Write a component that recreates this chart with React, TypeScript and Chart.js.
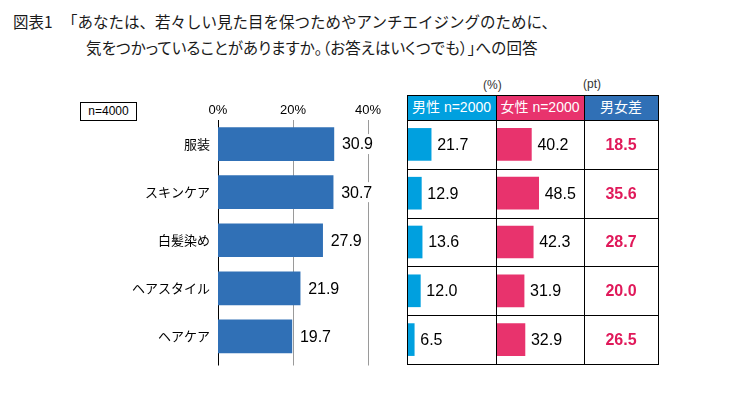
import React, { useEffect, useRef } from "react";
import { Chart, registerables } from "chart.js";

Chart.register(...registerables);

const categories = ["服装", "スキンケア", "白髪染め", "ヘアスタイル", "ヘアケア"];
const totalValues = [30.9, 30.7, 27.9, 21.9, 19.7];
const maleValues = [21.7, 12.9, 13.6, 12.0, 6.5];
const femaleValues = [40.2, 48.5, 42.3, 31.9, 32.9];
const diffValues = [18.5, 35.6, 28.7, 20.0, 26.5];
const axisTicks = [0, 20, 40];
const headers = ["男性 n=2000", "女性 n=2000", "男女差"];
const titleLabel = "図表1";
const titleLine1 = "「あなたは、若々しい見た目を保つためやアンチエイジングのために、";
const titleLine2 = "気をつかっていることがありますか。（お答えはいくつでも）」への回答";
const sampleLabel = "n=4000";

const NUM_FONT = "'Liberation Sans', Arial, sans-serif";
const JP_FONT = "'Noto Sans CJK JP', sans-serif";
const MIX_FONT = "'Liberation Sans', 'Noto Sans CJK JP', sans-serif";

const BLUE = "#3070B6";
const CYAN = "#00A0DF";
const PINK = "#E8336D";
const DIFF_TEXT = "#E0195A";

function MainChart() {
  const ref = useRef<HTMLCanvasElement>(null);
  useEffect(() => {
    const gridPlugin = {
      id: "gridLines",
      beforeDatasetsDraw(chart: any) {
        const { ctx, chartArea, scales } = chart;
        ctx.save();
        axisTicks.forEach((v) => {
          const x = Math.round(scales.x.getPixelForValue(v)) + 0.5;
          ctx.strokeStyle = v === 0 ? "#000" : "#9a9a9a";
          ctx.lineWidth = 1;
          ctx.beginPath();
          ctx.moveTo(x, chartArea.top);
          ctx.lineTo(x, chartArea.bottom + 5);
          ctx.stroke();
        });
        ctx.restore();
      },
    };
    const labelPlugin = {
      id: "valueLabels",
      afterDatasetsDraw(chart: any) {
        const { ctx } = chart;
        const meta = chart.getDatasetMeta(0);
        ctx.save();
        ctx.font = `16px ${NUM_FONT}`;
        ctx.textBaseline = "middle";
        meta.data.forEach((bar: any, i: number) => {
          const text = totalValues[i].toFixed(1);
          const w = ctx.measureText(text).width;
          const x = bar.x + 8;
          ctx.fillStyle = "#fff";
          ctx.fillRect(x - 2, bar.y - 10, w + 4, 20);
          ctx.fillStyle = "#000";
          ctx.fillText(text, x, bar.y + 1);
        });
        ctx.restore();
      },
    };
    const chart = new Chart(ref.current!, {
      type: "bar",
      data: {
        labels: categories,
        datasets: [{ data: totalValues, backgroundColor: BLUE, barThickness: 33 }],
      },
      options: {
        indexAxis: "y",
        animation: false,
        responsive: false,
        maintainAspectRatio: false,
        layout: { padding: { left: 0, right: 32, top: 0, bottom: 9.5 } },
        plugins: { legend: { display: false }, tooltip: { enabled: false } },
        scales: {
          x: {
            position: "top",
            min: 0,
            max: 40,
            ticks: {
              stepSize: 20,
              callback: (v: any) => v + "%",
              font: { family: NUM_FONT, size: 13 },
              color: "#000",
              padding: 2,
            },
            grid: { display: false, drawTicks: false },
            border: { display: false },
            afterFit: (s: any) => {
              s.height = 30;
            },
          },
          y: {
            ticks: { font: { family: JP_FONT, size: 13 }, color: "#000", padding: 8 },
            grid: { display: false, drawTicks: false },
            border: { display: false },
            afterFit: (s: any) => {
              s.width = 218;
              s.paddingTop = 0;
              s.paddingBottom = 0;
            },
          },
        },
      } as any,
      plugins: [gridPlugin, labelPlugin],
    });
    return () => chart.destroy();
  }, []);
  return (
    <canvas
      ref={ref}
      width={400}
      height={280}
      style={{ position: "absolute", left: 0, top: 90, width: 400, height: 280 }}
    />
  );
}

type TableProps = {
  values: number[];
  color: string;
  max: number;
  left: number;
  width: number;
  mode: "bar" | "text";
};

const TABLE_TOP = 120;
const TABLE_BOTTOM = 364;

function TableChart({ values, color, max, left, width, mode }: TableProps) {
  const ref = useRef<HTMLCanvasElement>(null);
  useEffect(() => {
    const labelPlugin = {
      id: "cellLabels",
      afterDatasetsDraw(chart: any) {
        const { ctx, chartArea } = chart;
        const meta = chart.getDatasetMeta(0);
        ctx.save();
        ctx.textBaseline = "middle";
        meta.data.forEach((bar: any, i: number) => {
          const text = values[i].toFixed(1);
          if (mode === "bar") {
            ctx.font = `16px ${NUM_FONT}`;
            ctx.fillStyle = "#000";
            ctx.textAlign = "left";
            ctx.fillText(text, bar.x + 6, bar.y + 1);
          } else {
            ctx.font = `bold 16px ${NUM_FONT}`;
            ctx.fillStyle = DIFF_TEXT;
            ctx.textAlign = "center";
            ctx.fillText(text, (chartArea.left + chartArea.right) / 2, bar.y + 1);
          }
        });
        ctx.restore();
      },
    };
    const chart = new Chart(ref.current!, {
      type: "bar",
      data: {
        labels: categories,
        datasets: [
          {
            data: values,
            backgroundColor: mode === "bar" ? color : "rgba(0,0,0,0)",
            barThickness: 32,
          },
        ],
      },
      options: {
        indexAxis: "y",
        animation: false,
        responsive: false,
        maintainAspectRatio: false,
        layout: { padding: 0 },
        plugins: { legend: { display: false }, tooltip: { enabled: false } },
        scales: {
          x: { display: false, min: 0, max },
          y: { display: false },
        },
      } as any,
      plugins: [labelPlugin],
    });
    return () => chart.destroy();
  }, []);
  const h = TABLE_BOTTOM - TABLE_TOP;
  return (
    <canvas
      ref={ref}
      width={width}
      height={h}
      style={{ position: "absolute", left, top: TABLE_TOP, width, height: h }}
    />
  );
}

export default function App() {
  useEffect(() => {
    document.body.style.margin = "0";
  }, []);
  const colX = [407, 496, 584, 658];
  const headerTop = 95;
  const rowH = (TABLE_BOTTOM - TABLE_TOP) / categories.length;
  const rowYs = [headerTop, TABLE_TOP, ...categories.map((_, i) => TABLE_TOP + (i + 1) * rowH)];
  const headerColors = [CYAN, PINK, BLUE];
  return (
    <div
      style={{
        position: "absolute",
        left: 0,
        top: 0,
        width: 740,
        height: 399,
        background: "#fff",
        overflow: "hidden",
        fontFamily: JP_FONT,
        color: "#1a1a1a",
      }}
    >
      <div style={{ position: "absolute", left: 13, top: 10, fontSize: 15.5, lineHeight: "22px", whiteSpace: "nowrap" }}>
        {titleLabel}
      </div>
      <div style={{ position: "absolute", left: 62, top: 10, fontSize: 15.5, lineHeight: "22px", whiteSpace: "nowrap" }}>
        {titleLine1}
      </div>
      <div
        style={{
          position: "absolute",
          left: 86,
          top: 35.5,
          fontSize: 15.5,
          lineHeight: "22px",
          whiteSpace: "nowrap",
          fontFeatureSettings: "'palt'",
          letterSpacing: "0.1px",
        }}
      >
        {titleLine2}
      </div>

      <div
        style={{
          position: "absolute",
          left: 80,
          top: 102,
          width: 55,
          height: 17,
          border: "1px solid #000",
          fontFamily: NUM_FONT,
          fontSize: 12,
          lineHeight: "17px",
          textAlign: "center",
          color: "#000",
        }}
      >
        {sampleLabel}
      </div>

      <MainChart />

      {headers.map((t, i) => (
        <div
          key={t}
          style={{
            position: "absolute",
            left: colX[i],
            top: headerTop,
            width: colX[i + 1] - colX[i],
            height: TABLE_TOP - headerTop,
            background: headerColors[i],
            color: "#fff",
            fontFamily: MIX_FONT,
            fontSize: 14,
            lineHeight: `${TABLE_TOP - headerTop}px`,
            textAlign: "center",
            whiteSpace: "nowrap",
          }}
        >
          {t}
        </div>
      ))}

      <div style={{ position: "absolute", left: 483, top: 78, fontFamily: MIX_FONT, fontSize: 12, color: "#333" }}>(%)</div>
      <div style={{ position: "absolute", left: 583, top: 77, fontFamily: MIX_FONT, fontSize: 12, color: "#333" }}>(pt)</div>

      <TableChart values={maleValues} color={CYAN} max={80} left={407} width={89} mode="bar" />
      <TableChart values={femaleValues} color={PINK} max={100} left={496} width={88} mode="bar" />
      <TableChart values={diffValues} color={DIFF_TEXT} max={100} left={584} width={74} mode="text" />

      {colX.map((x) => (
        <div
          key={"v" + x}
          style={{ position: "absolute", left: x, top: headerTop, width: 1, height: TABLE_BOTTOM - headerTop + 1, background: "#000" }}
        />
      ))}
      {rowYs.map((y, i) => (
        <div
          key={"h" + i}
          style={{ position: "absolute", left: colX[0], top: Math.round(y), width: colX[3] - colX[0] + 1, height: 1, background: "#000" }}
        />
      ))}
    </div>
  );
}
